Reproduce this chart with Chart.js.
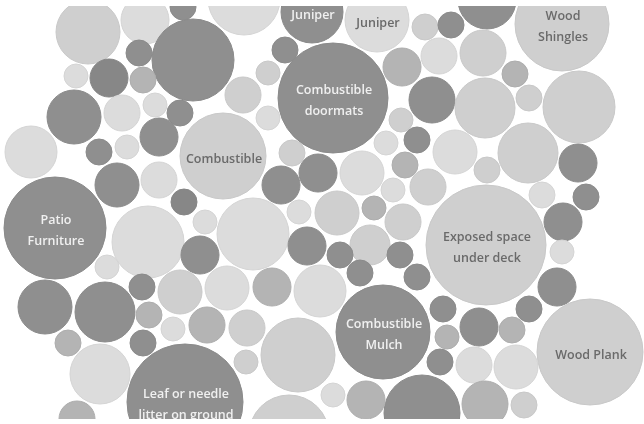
<!DOCTYPE html>
<html>
<head>
<meta charset="utf-8">
<script src="https://cdn.jsdelivr.net/npm/chart.js@4"></script>
<style>
html,body{margin:0;padding:0;background:#fff;}
#wrap{width:644px;height:424px;}
</style>
</head>
<body>
<div id="wrap"><canvas id="c" width="644" height="424"></canvas></div>
<script>
// Bubble data (x, y in chart units, r in pixels), shade class, label
const bubbleX = [88,145,183,244,312,193,139,109,76,143,74,122,155,180,243,268,285,268,333,223,31,99,127,159,292,281,318,117,159,184,55,148,253,
  377,425,451,487,562,402,439,483,515,432,485,529,579,401,417,386,455,528,578,405,362,487,428,393,542,586,
  299,337,374,403,205,200,307,370,340,400,360,417,486,563,562,557,529,590,383,443,479,512,447,440,474,516,422,366,333,485,524,
  107,45,105,142,180,227,272,320,149,173,207,247,68,143,246,298,100,185,77,289];
const bubbleY = [32,20,7,-1,12,60,53,78,76,80,117,113,105,113,95,73,50,118,98,156,152,152,147,137,153,185,173,185,180,202,228,242,234,
  20,27,25,0,24,67,56,53,74,100,108,98,107,120,140,143,152,153,163,165,173,170,187,190,195,197,
  212,213,208,222,222,255,246,245,255,255,273,277,245,222,252,287,309,352,332,309,327,330,337,362,365,367,413,400,395,404,405,
  267,307,312,287,292,288,287,291,315,329,325,328,343,343,362,355,374,402,419,435];
const bubbleR = [32,24,13,36,31,41,13,19,12,13,27,18,12,13,18,12,13,12,55,43,26,13,12,19,13,19,19,22,18,13,51,36,36,
  32,13,13,29,47,19,18,23,13,23,30,13,36,12,13,12,22,30,19,13,22,13,18,12,13,13,
  12,22,12,18,12,19,19,20,13,13,13,13,60,19,12,19,13,53,47,13,19,13,12,13,18,22,38,19,12,23,13,
  12,27,30,13,22,22,19,26,13,12,18,18,13,13,12,37,30,58,18,40];
const bubbleShade = ['L','V','D','V','D','D','D','S','V','M','D','V','V','D','L','L','D','V','D','L','V','D','V','D','L','D','D','D','V','S','D','V','V',
  'V','L','D','D','L','M','V','L','M','D','L','L','L','L','D','V','V','L','D','M','V','L','L','V','V','D',
  'V','L','M','L','V','D','D','L','D','D','D','D','L','D','V','D','D','L','D','D','D','M','M','D','V','V','D','M','V','M','L',
  'V','D','D','D','L','V','M','V','M','V','M','L','M','D','L','L','V','D','M','L'];
// labels keyed by bubble index
const labelIndex = [4,33,37,18,19,30,71,76,77,107];
const labelText = [['Juniper'],['Juniper'],['Wood','Shingles'],['Combustible','doormats'],['Combustible'],['Patio','Furniture'],
  ['Exposed space','under deck'],['Wood Plank'],['Combustible','Mulch'],['Leaf or needle','litter on ground']];

const shadeFill = {S:'#878787', D:'#8f8f8f', M:'#b4b4b4', L:'#cfcfcf', V:'#dcdcdc'};
const shadeEdge = {S:'#858585', D:'#8a8a8a', M:'#adadad', L:'#c8c8c8', V:'#d4d4d4'};
const shadeText = {S:'#f2f2f2', D:'#f0f0f0', M:'#f0f0f0', L:'#6a6a6a', V:'#6a6a6a'};

const points = bubbleX.map((x,i)=>({x:x, y:bubbleY[i], r:bubbleR[i]}));

const labelPlugin = {
  id:'bubbleLabels',
  afterDatasetsDraw(chart){
    const ctx = chart.ctx;
    const meta = chart.getDatasetMeta(0);
    const a = chart.chartArea;
    ctx.save();
    ctx.beginPath();
    ctx.rect(a.left, a.top, a.right - a.left, a.bottom - a.top);
    ctx.clip();
    ctx.font = '600 12.5px "Open Sans", "Noto Sans", sans-serif';
    ctx.textAlign = 'center';
    ctx.textBaseline = 'middle';
    labelIndex.forEach((bi,k)=>{
      const el = meta.data[bi];
      const lines = labelText[k];
      ctx.fillStyle = shadeText[bubbleShade[bi]];
      const lh = 21;
      const y0 = el.y + 3 - (lines.length-1)*lh/2;
      lines.forEach((t,j)=>ctx.fillText(t, el.x + 1, y0 + j*lh));
    });
    ctx.restore();
  }
};

new Chart(document.getElementById('c'), {
  type:'bubble',
  data:{datasets:[{
    data: points,
    backgroundColor: bubbleShade.map(s=>shadeFill[s]),
    borderColor: bubbleShade.map(s=>shadeEdge[s]),
    borderWidth: 1,
    clip: 0
  }]},
  options:{
    responsive:false,
    animation:false,
    events:[],
    layout:{padding:{top:6, bottom:5, left:0, right:0}, autoPadding:false},
    plugins:{legend:{display:false}, tooltip:{enabled:false}},
    scales:{
      x:{type:'linear', min:0, max:644, display:false},
      y:{type:'linear', min:6, max:419, reverse:true, display:false}
    }
  },
  plugins:[labelPlugin]
});
</script>
</body>
</html>
